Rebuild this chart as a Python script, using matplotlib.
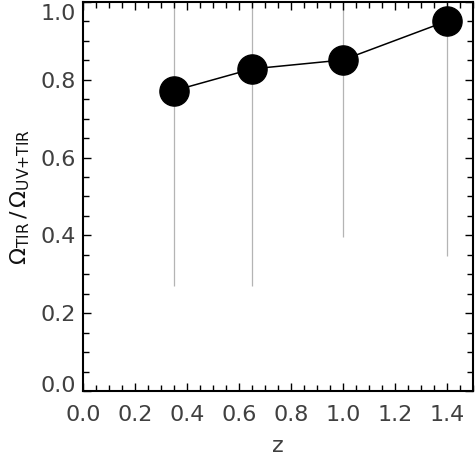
import matplotlib
matplotlib.use("Agg")
import numpy as np
import matplotlib.pyplot as plt
import matplotlib.transforms as mtransforms
from matplotlib.ticker import MultipleLocator, FixedLocator

# Redshift bins and TIR fraction of the total (UV+TIR) density
Z = [0.35, 0.65, 1.0, 1.4]
FRAC = [0.772, 0.828, 0.851, 0.951]
# Lower / upper extent of the grey range lines
FRAC_LO = [0.269, 0.269, 0.397, 0.346]
FRAC_HI = [1.05, 1.05, 1.05, 1.05]

X_TICKS = [0.0, 0.2, 0.4, 0.6, 0.8, 1.0, 1.2, 1.4]
Y_TICKS = [0.0, 0.2, 0.4, 0.6, 0.8, 1.0]

plt.rcParams["mathtext.fontset"] = "dejavusans"
plt.rcParams["mathtext.default"] = "regular"

fig = plt.figure(figsize=(4.76, 4.55), dpi=100)
ax = fig.add_axes([0.1744, 0.1407, 0.8193, 0.8549])

ax.vlines(Z, FRAC_LO, FRAC_HI, color="#b4b4b4", lw=0.9, zorder=1)
ax.plot(Z, FRAC, color="black", lw=1.1, zorder=2)
ax.plot(Z, FRAC, "o", color="black", ms=21, zorder=3)

ax.set_xlim(0, 1.5)
ax.set_ylim(0, 1.0)
ax.xaxis.set_major_locator(FixedLocator(X_TICKS))
ax.yaxis.set_major_locator(FixedLocator(Y_TICKS))
ax.xaxis.set_minor_locator(MultipleLocator(0.05))
ax.yaxis.set_minor_locator(MultipleLocator(0.05))
ax.set_xticklabels([f"{v:.1f}" for v in X_TICKS])
ax.set_yticklabels([f"{v:.1f}" for v in Y_TICKS])

ax.tick_params(which="both", direction="in", top=True, right=True,
               width=1.0, colors="black", labelcolor="#404040", labelsize=16)
ax.tick_params(which="major", length=6)
ax.tick_params(which="minor", length=4)
ax.tick_params(axis="x", pad=10)
ax.tick_params(axis="y", pad=5)
for sp in ax.spines.values():
    sp.set_linewidth(1.5)

# IDL-style: the end labels on the y axis are pulled inside the axis range
ylabs = ax.get_yticklabels()
up = mtransforms.ScaledTranslation(0, 5 / 72, fig.dpi_scale_trans)
down = mtransforms.ScaledTranslation(0, -7.5 / 72, fig.dpi_scale_trans)
ylabs[0].set_transform(ylabs[0].get_transform() + up)
ylabs[-1].set_transform(ylabs[-1].get_transform() + down)

ax.set_xlabel("z", fontsize=16, color="#404040", labelpad=8)
ax.set_ylabel(r"$\Omega_{TIR}\,/\,\Omega_{UV{+}TIR}$", fontsize=16,
              color="#111111", labelpad=6)

fig.savefig("out.png", dpi=100)
